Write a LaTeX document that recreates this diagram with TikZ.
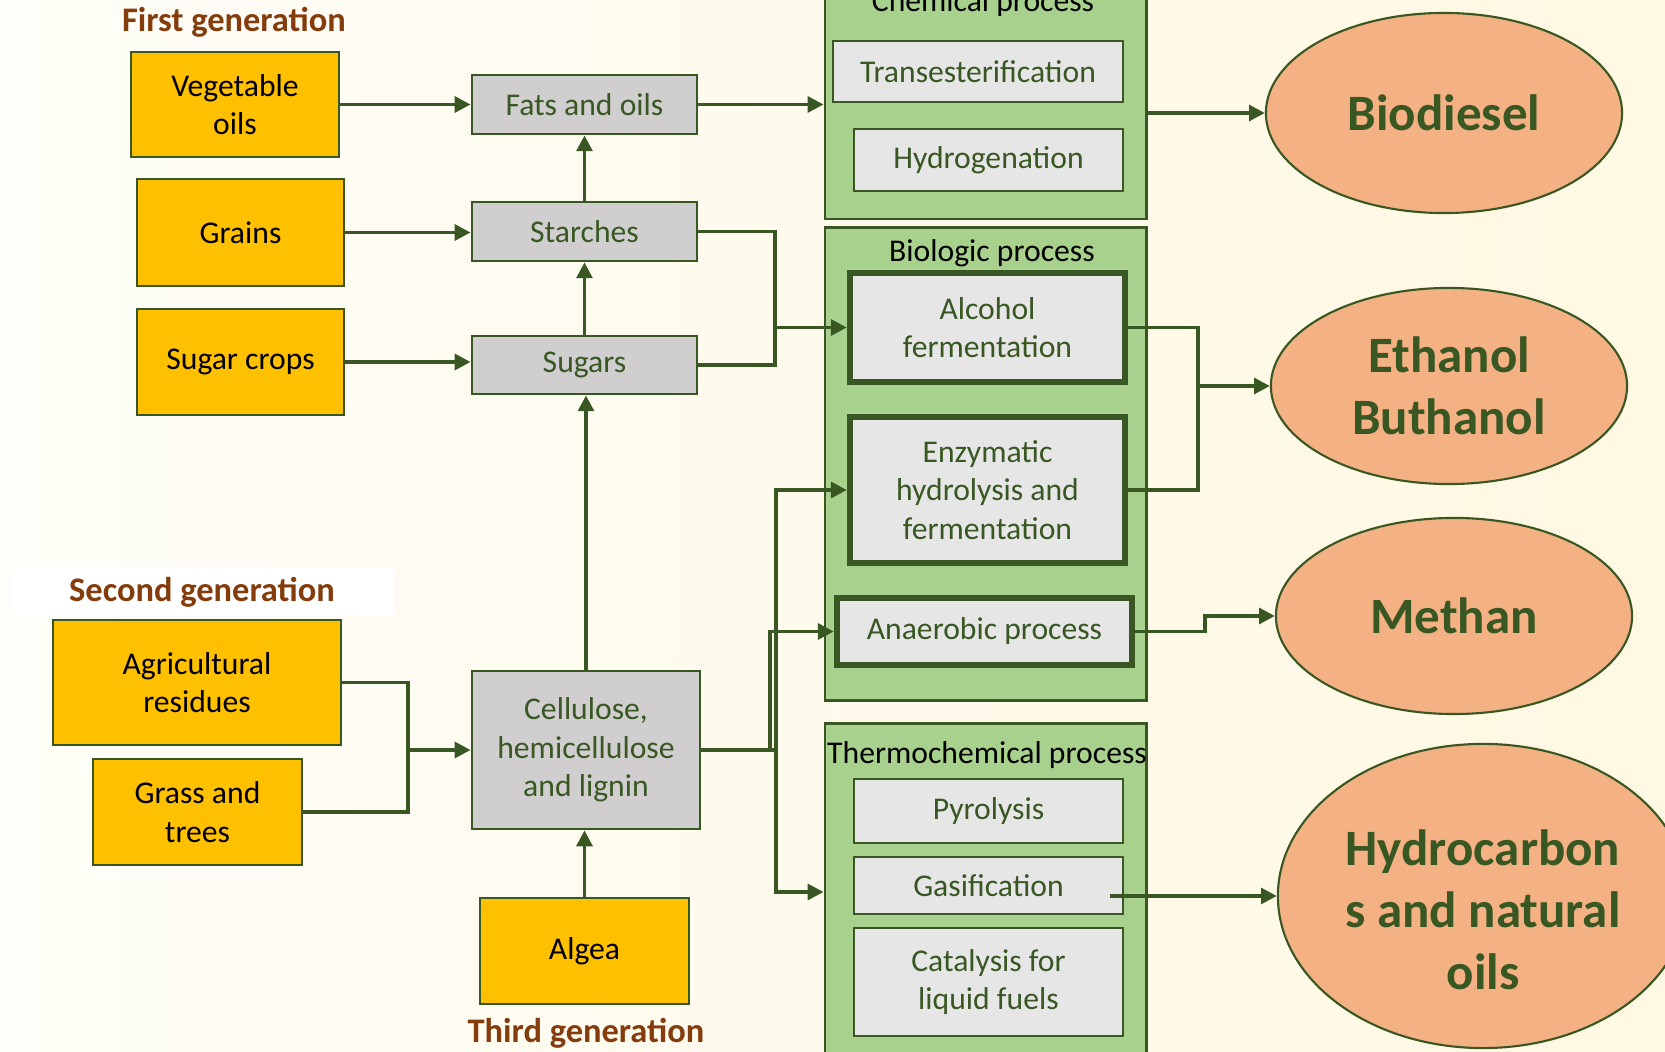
\documentclass[tikz,border=0pt]{standalone}
\usepackage{fontspec}
\setmainfont{Carlito}
\usetikzlibrary{arrows.meta, positioning, shapes.geometric}
\definecolor{gold}{HTML}{FFC000}
\definecolor{boxgrey}{HTML}{D0CECE}
\definecolor{innergrey}{HTML}{E7E6E6}
\definecolor{procgreen}{HTML}{A9D18E}
\definecolor{fuelorange}{HTML}{F4B183}
\definecolor{dkgreen}{HTML}{385723}
\definecolor{genbrown}{HTML}{843C0C}
\definecolor{bgleft}{RGB}{254,253,247}
\definecolor{bgright}{RGB}{255,248,226}
\newcommand{\boxfont}{\fontsize{9}{10.9}\selectfont}
\newcommand{\fuelfont}{\fontsize{14.5}{17.6}\selectfont\bfseries}
\newcommand{\genfont}{\fontsize{9.8}{11.5}\selectfont\bfseries}

\begin{document}
\begin{tikzpicture}[x=0.01cm, y=-0.01cm,
    genbox/.style={rectangle, draw=dkgreen, line width=0.7pt, fill=gold,
                   font=\boxfont, align=center, inner sep=0pt},
    midbox/.style={rectangle, draw=dkgreen, line width=0.8pt, fill=boxgrey,
                   text=dkgreen, font=\boxfont, align=center, inner sep=0pt},
    procbox/.style={rectangle, draw=dkgreen, line width=0.6pt, fill=innergrey,
                    text=dkgreen, font=\boxfont, align=center, inner sep=0pt},
    keybox/.style={procbox, line width=1.8pt},
    group/.style={rectangle, draw=dkgreen, line width=0.8pt, fill=procgreen,
                  minimum width=3.21cm, inner sep=0pt},
    fuel/.style={ellipse, draw=dkgreen, line width=0.6pt, fill=fuelorange,
                 text=dkgreen, font=\fuelfont, align=center, inner sep=0pt},
    lbl/.style={font=\genfont, text=genbrown, inner sep=0pt},
    wire/.style={line width=1pt, draw=dkgreen},
    arr/.style={wire, -{Triangle[length=4.5pt, width=4.5pt]}},
]
\useasboundingbox (0,0) rectangle (1665,1052);
\clip (0,0) rectangle (1665,1052);
\shade[left color=bgleft, right color=bgright] (0,0) rectangle (1665,1052);

\node[lbl] (gen1) at (234,22) {First generation};
\node[lbl, fill=white, minimum width=3.84cm, minimum height=0.48cm] (gen2) at (202,592) {Second generation};
\node[lbl] (gen3) at (586,1033) {Third generation};

\node[genbox, minimum width=2.08cm, minimum height=1.05cm] (veg) at (235,104.5) {Vegetable\\oils};
\node[genbox, minimum width=2.07cm, minimum height=1.07cm] (grains) at (240.5,232.5) {Grains};
\node[genbox, minimum width=2.07cm, minimum height=1.06cm] (sugarcrops) at (240.5,362) {Sugar crops};
\node[genbox, minimum width=2.88cm, minimum height=1.25cm] (agri) at (197,682.5) {Agricultural\\residues};
\node[genbox, minimum width=2.09cm, minimum height=1.06cm] (grass) at (197.5,812) {Grass and\\trees};
\node[genbox, minimum width=2.09cm, minimum height=1.06cm] (algea) at (584.5,951) {Algea};

\node[midbox, minimum width=2.25cm, minimum height=0.59cm] (fats) at (584.5,104.5) {Fats and oils};
\node[midbox, minimum width=2.25cm, minimum height=0.59cm] (starches) at (584.5,231.5) {Starches};
\node[midbox, minimum width=2.25cm, minimum height=0.58cm] (sugars) at (584.5,365) {Sugars};
\node[midbox, minimum width=2.28cm, minimum height=1.58cm] (cellulose) at (586,750) {Cellulose,\\hemicellulose\\and lignin};

\node[group, minimum height=2.39cm] (chem) at (985.5,99.5) {};
\node[group, minimum height=4.72cm] (bio) at (985.5,464) {};
\node[group, minimum height=3.36cm] (thermo) at (985.5,892) {};

\node[anchor=base, font=\boxfont] (chemlbl) at (983,12) {Chemical process};
\node[font=\boxfont] (biolbl) at (992,253) {Biologic process};
\node[font=\boxfont, inner sep=0pt] (thermolbl) at (987,755) {Thermochemical process};

\node[procbox, minimum width=2.90cm, minimum height=0.61cm] (trans) at (978,71.5) {Transesterification};
\node[procbox, minimum width=2.69cm, minimum height=0.62cm] (hydro) at (988.5,160) {Hydrogenation};
\node[keybox, minimum width=2.75cm, minimum height=1.09cm] (alcohol) at (987.5,327.5) {Alcohol\\fermentation};
\node[keybox, minimum width=2.75cm, minimum height=1.46cm] (enzym) at (987.5,490) {Enzymatic\\hydrolysis and\\fermentation};
\node[keybox, minimum width=2.95cm, minimum height=0.67cm] (anaer) at (984.5,631.5) {Anaerobic process};
\node[procbox, minimum width=2.69cm, minimum height=0.64cm] (pyro) at (988.5,811) {Pyrolysis};
\node[procbox, minimum width=2.69cm, minimum height=0.57cm] (gasif) at (988.5,885.5) {Gasification};
\node[procbox, minimum width=2.69cm, minimum height=1.08cm] (catal) at (988.5,982) {Catalysis for\\liquid fuels};

\node[fuel, minimum width=3.56cm, minimum height=2.00cm] (biodiesel) at (1444,113) {Biodiesel};
\node[fuel, minimum width=3.56cm, minimum height=1.96cm] (ethanol) at (1449,386) {Ethanol\\Buthanol};
\node[fuel, minimum width=3.56cm, minimum height=1.96cm] (methan) at (1454,616) {Methan};
\node[fuel, minimum width=4.10cm, minimum height=3.04cm,
      label={[font=\fuelfont, text=dkgreen, align=center, yshift=-0.14cm]center:Hydrocarbon\\s and natural\\oils}] (hydrocarb) at (1483,896) {};

\draw[arr] (veg.east) -- (veg.east -| fats.west);
\draw[arr] (grains.east) -- (grains.east -| starches.west);
\draw[arr] (sugarcrops.east) -- (sugarcrops.east -| sugars.west);
\draw[arr] (starches) -- (fats);
\draw[arr] (sugars) -- (starches);
\draw[arr] (cellulose.north) -- (cellulose.north |- sugars.south);
\draw[arr] (algea.north) -- (algea.north |- cellulose.south);
\draw[arr] (fats.east) -- (fats.east -| chem.west);

\coordinate (jsug) at (775,327.5);
\draw[wire] (starches.east) -| (jsug) |- (sugars.east);
\draw[arr] (jsug) -- (alcohol.west);

\coordinate (jres) at (408,750);
\draw[wire] (agri.east) -| (jres) |- (grass.east);
\draw[arr] (jres) -- (cellulose.west);

\coordinate (jcel) at (776,750);
\draw[wire] (cellulose.east) -- (jcel);
\draw[arr] (jcel) |- (enzym.west);
\draw[arr] ([xshift=-0.06cm]jcel) |- (anaer.west);
\draw[arr] (jcel) |- (thermo.west);

\draw[arr] (chem.east |- biodiesel.west) -- (biodiesel.west);
\coordinate (jeth) at (1198,386);
\draw[wire] (alcohol.east) -| (jeth) |- (enzym.east);
\draw[arr] (jeth) -- (ethanol.west);
\draw[arr] (anaer.east) -- ++(70,0) |- (methan.west);
\draw[arr] ([xshift=-0.14cm]gasif.east |- hydrocarb.west) -- (hydrocarb.west);
\end{tikzpicture}
\end{document}
